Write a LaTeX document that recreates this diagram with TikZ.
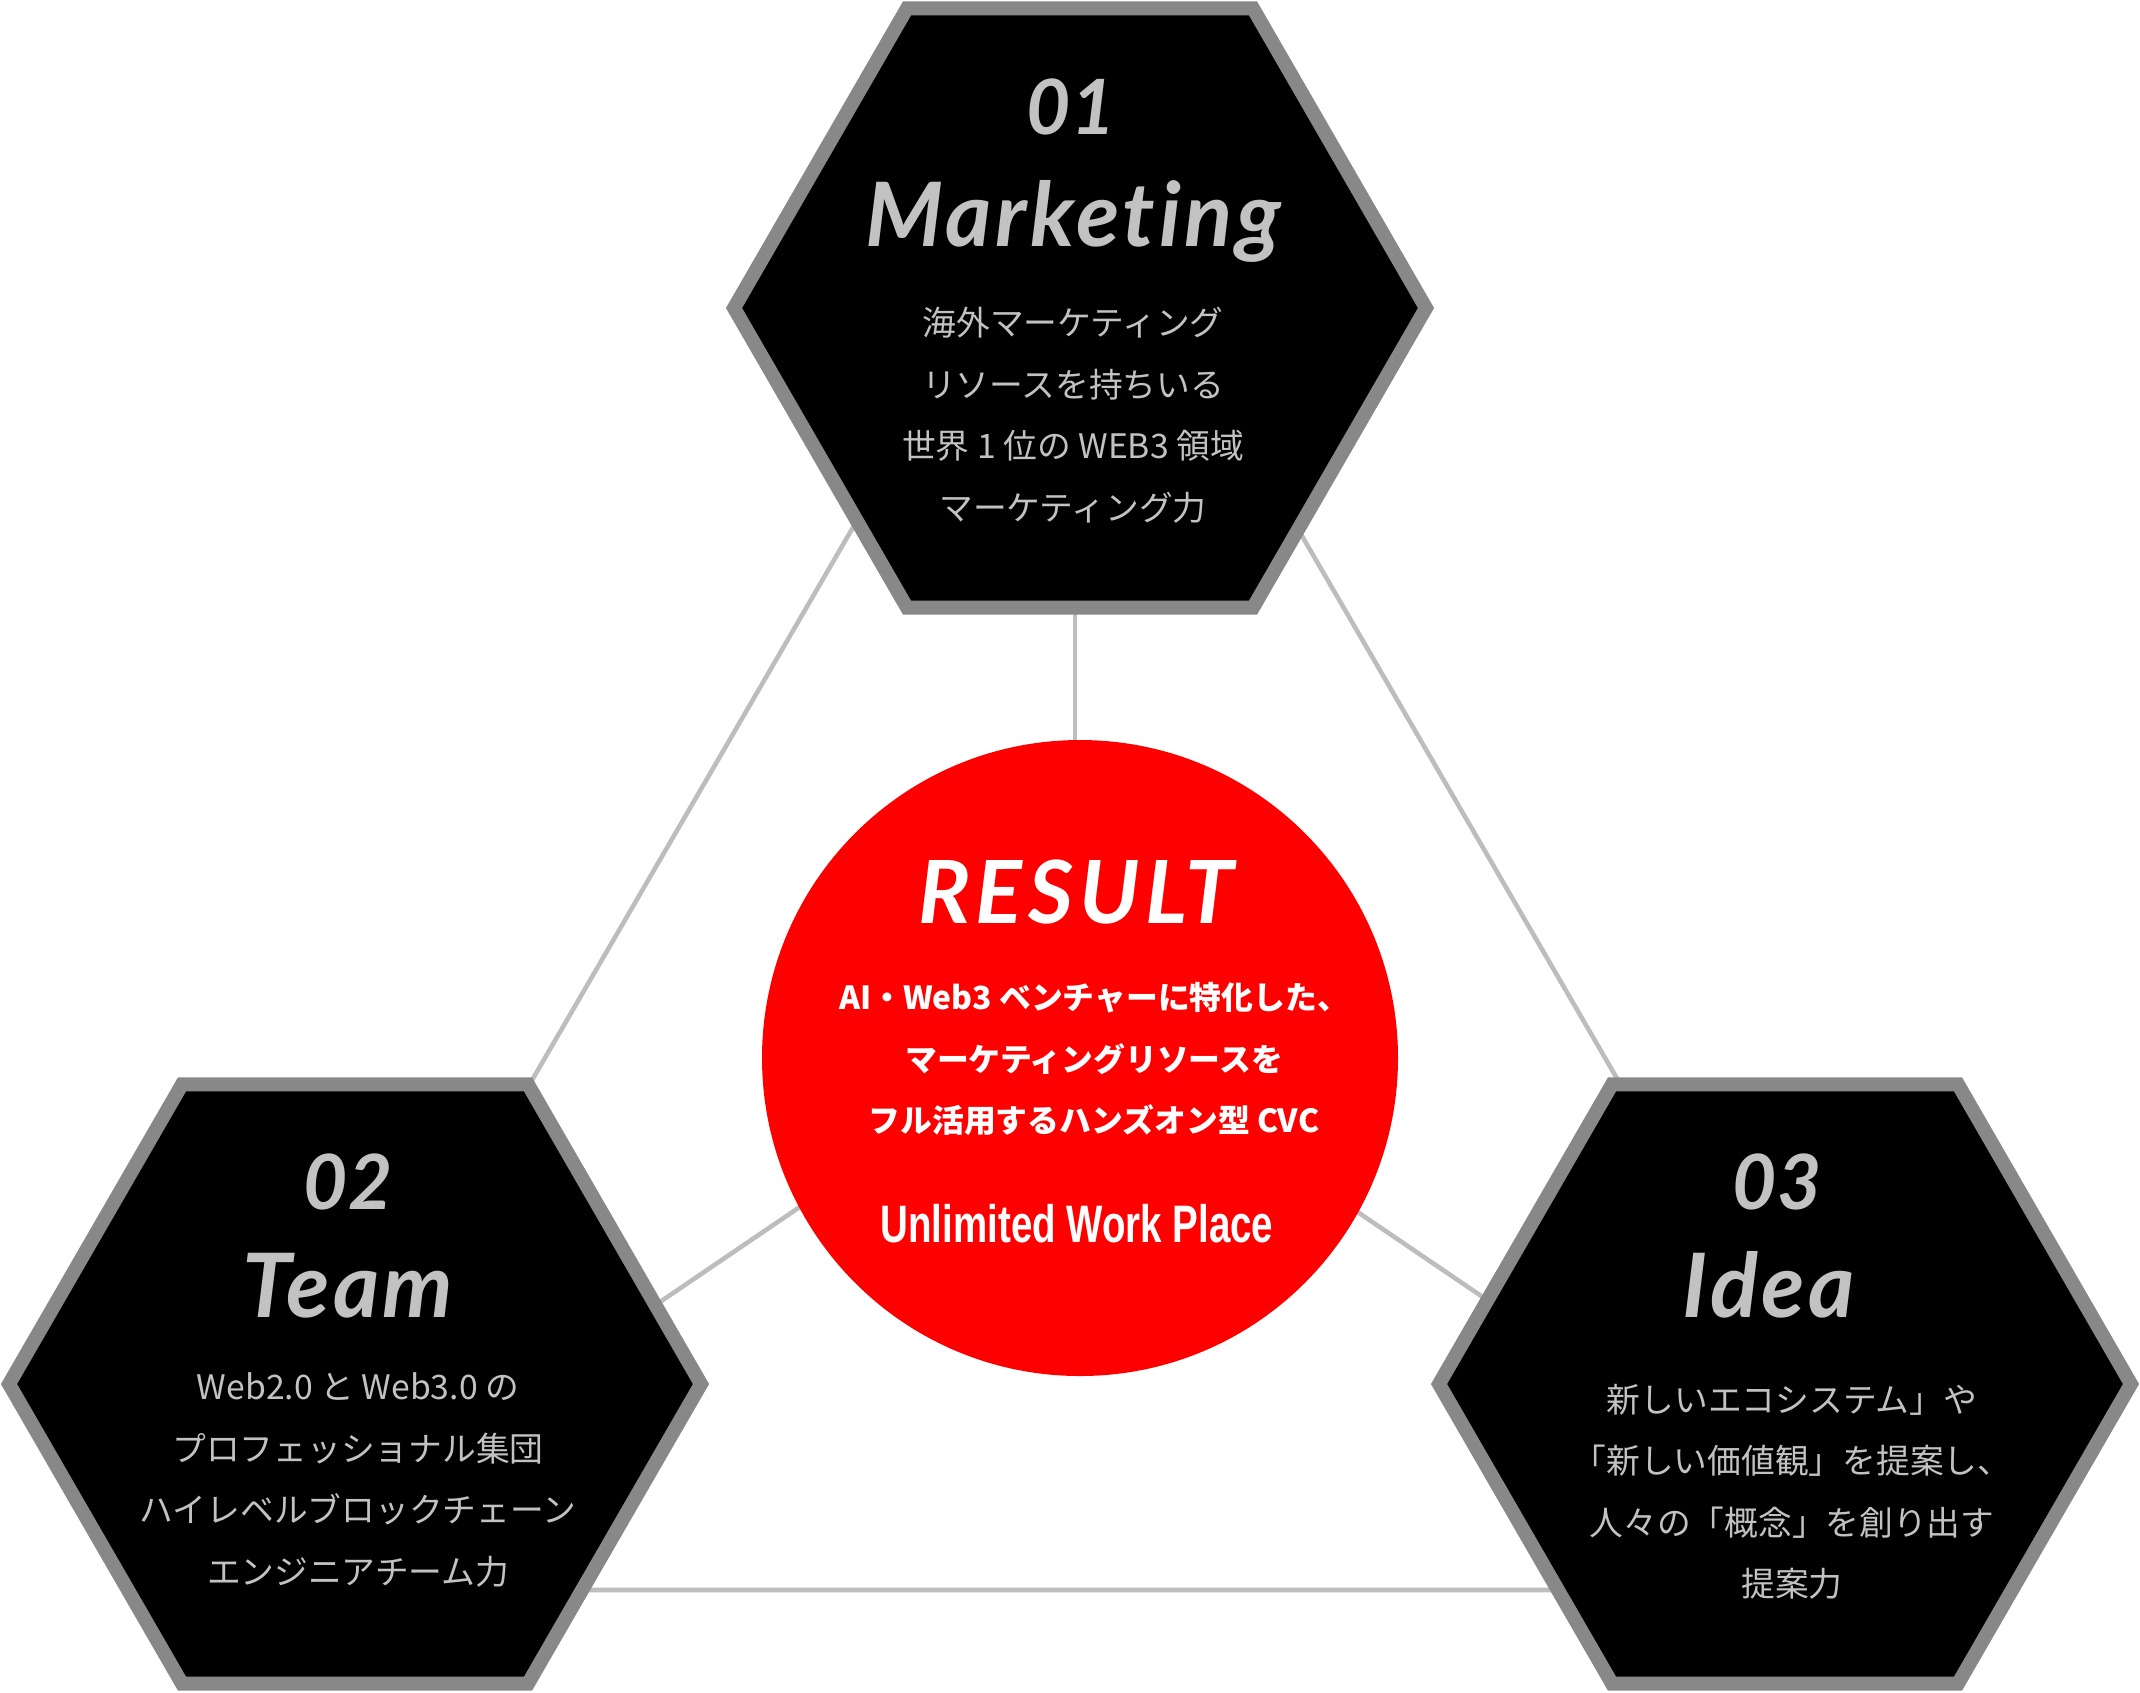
\documentclass[tikz,border=0pt]{standalone}
\usepackage{fontspec}
\usetikzlibrary{shapes.geometric}
\newfontfamily\chiffrefont{Lato}
\newfontfamily\titrefont{Lato}[Ligatures=NoCommon, LetterSpace=4]
\newfontfamily\resultfont{Lato}[Ligatures=NoCommon, LetterSpace=6.5]
\newfontfamily\jpfont{Noto Sans CJK JP}
\newfontfamily\condfont{Liberation Sans}[FakeStretch=0.73]
\definecolor{rouge}{HTML}{FF0000}
\definecolor{bord}{HTML}{888888}
\definecolor{trait}{HTML}{BDBDBD}
\definecolor{texte}{HTML}{C2C2C2}

\begin{document}
\begin{tikzpicture}[x=0.1mm,y=-0.1mm,
		hexa/.style={regular polygon, regular polygon sides=6, minimum size=69.2mm, inner sep=0pt, fill=black, draw=bord, line width=3.98pt},
		lien/.style={draw=trait, line width=1.3pt},
		numero/.style={text=texte, anchor=base, font=\chiffrefont\bfseries\itshape\fontsize{21.7}{26}\selectfont},
		titre/.style={text=texte, anchor=base, font=\titrefont\bfseries\itshape\fontsize{25.3}{30}\selectfont},
		desc/.style={text=texte, align=center, font=\jpfont\fontsize{9.6}{17.5}\selectfont}]
		\useasboundingbox (0,0) rectangle (2140,1692);
		
		% Points du triangle
		\coordinate (sommet) at (1075,145);
		\coordinate (basG) at (236,1590);
		\coordinate (basD) at (1914,1590);
		\coordinate (milieu) at (1075,1020);
		
		% Traits gris
		\draw[lien] (sommet) -- (basG) -- (basD) -- cycle;
		\draw[lien] (milieu) -- (sommet);
		\draw[lien] (milieu) -- (basG);
		\draw[lien] (milieu) -- (basD);
		
		% Hexagones et cercle
		\node[hexa] (marketing) at (1080,308) {};
		\node[hexa] (team) at (355,1384) {};
		\node[hexa] (idea) at (1785,1384) {};
		\node[circle, fill=rouge, minimum size=63.6mm, inner sep=0pt] (result) at (1080,1058) {};
		
		% Textes
		\node[numero] (num1) at (1071,134) {01};
		\node[titre] (titre1) at (1073,246) {Marketing};
		\node[desc] (desc1) at (1073,415) {海外マーケティング\\リソースを持ちいる\\世界 1 位の WEB3 領域\\マーケティング力};
		
		\node[numero] (num2) at (348,1209) {02};
		\node[titre] (titre2) at (348,1317) {Team};
		\node[desc] (desc2) at (358,1480) {Web2.0 と Web3.0 の\\プロフェッショナル集団\\ハイレベルブロックチェーン\\エンジニアチーム力};
		
		\node[numero] (num3) at (1777,1209) {03};
		\node[titre] (titre3) at (1769,1317) {Idea};
		\node[desc] (desc3) at (1792,1492) {新しいエコシステム」や\\「新しい価値観」を提案し、\\人々の「概念」を創り出す\\提案力};
		
		\node[white, anchor=base, font=\resultfont\bfseries\itshape\fontsize{24.8}{30}\selectfont] (res) at (1076,923) {RESULT};
		\node[white, align=center, font=\jpfont\bfseries\fontsize{9.05}{17.4}\selectfont] (resdesc) at (1094,1059) {AI・Web3 ベンチャーに特化した、\\マーケティングリソースを\\フル活用するハンズオン型 CVC};
		\node[white, anchor=base, font=\condfont\bfseries\fontsize{15}{18}\selectfont] (uwp) at (1077,1242) {Unlimited Work Place};
	\end{tikzpicture}
\end{document}
